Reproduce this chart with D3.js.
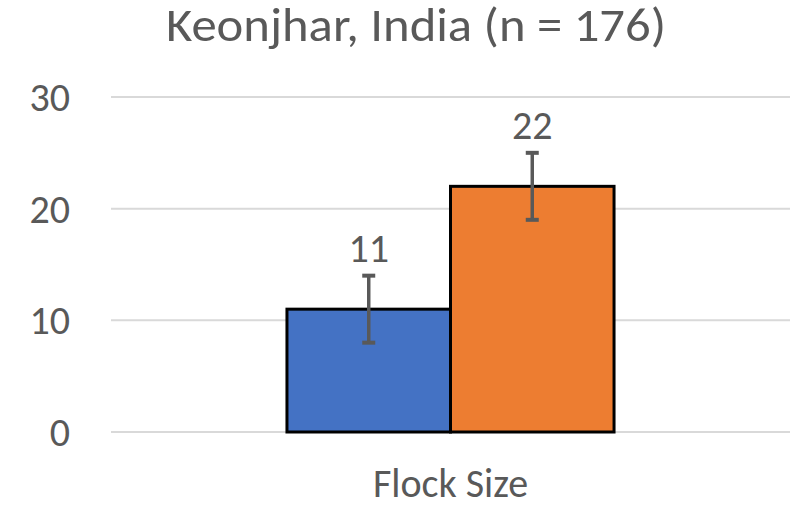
<!DOCTYPE html>
<html>
<head>
<meta charset="utf-8">
<script src="https://cdn.jsdelivr.net/npm/d3@7"></script>
<style>
  body { margin: 0; background: #fff; }
  text { font-family: Carlito, Calibri, "Open Sans", sans-serif; fill: #595959; }
</style>
</head>
<body>
<div id="chart"></div>
<script>
"use strict";

const categories = ["Flock Size"];
const seriesNames = ["Series A", "Series B"];
const seriesValues = [11, 22];
const errorLow = [8, 19];
const errorHigh = [14, 25];
const seriesColors = ["#4472c4", "#ed7d31"];
const yTicks = [0, 10, 20, 30];
const titleText = "Keonjhar, India (n = 176)";

const width = 808, height = 508;
const margin = { top: 97, right: 18, bottom: 76, left: 111 };
const plotW = width - margin.left - margin.right;
const plotH = height - margin.top - margin.bottom;
const fontStack = 'Carlito, Calibri, "Open Sans", sans-serif';

const svg = d3.select("#chart").append("svg")
  .attr("width", width)
  .attr("height", height);

// title, stretched slightly wider like the source picture
svg.append("text")
  .attr("x", 416)
  .attr("y", 41)
  .attr("text-anchor", "middle")
  .attr("textLength", 500)
  .attr("lengthAdjust", "spacingAndGlyphs")
  .style("font-size", "48px")
  .text(titleText);

const g = svg.append("g")
  .attr("transform", `translate(${margin.left},${margin.top})`);

const yScale = d3.scaleLinear().domain([0, 30]).range([plotH, 0]);
const xScale = d3.scaleBand().domain(categories).range([0, plotW])
  .paddingInner(0).paddingOuter(0.538);
const xInner = d3.scaleBand().domain(seriesNames).range([0, xScale.bandwidth()]);

// gridlines
g.append("g")
  .selectAll("line")
  .data(yTicks)
  .join("line")
  .attr("x1", 0)
  .attr("x2", plotW)
  .attr("y1", d => yScale(d))
  .attr("y2", d => yScale(d))
  .attr("stroke", "#d9d9d9")
  .attr("stroke-width", 2);

// y axis labels
const yAxis = g.append("g")
  .call(d3.axisLeft(yScale).tickValues(yTicks).tickSize(0).tickPadding(41));
yAxis.select(".domain").remove();
yAxis.selectAll("text")
  .attr("fill", "#595959")
  .attr("dy", "0.34em")
  .style("font-size", "40px")
  .style("font-family", fontStack);

// x axis label
const xAxis = g.append("g")
  .attr("transform", `translate(0,${plotH})`)
  .call(d3.axisBottom(xScale).tickSize(0).tickPadding(37));
xAxis.select(".domain").remove();
xAxis.selectAll("text")
  .attr("fill", "#595959")
  .style("font-size", "40px")
  .style("font-family", fontStack);

const barData = seriesNames.map((s, i) => ({
  name: s, value: seriesValues[i], lo: errorLow[i], hi: errorHigh[i], color: seriesColors[i]
}));

const groupX = xScale(categories[0]);

// bars
g.append("g")
  .selectAll("rect")
  .data(barData)
  .join("rect")
  .attr("x", d => groupX + xInner(d.name))
  .attr("y", d => yScale(d.value))
  .attr("width", xInner.bandwidth())
  .attr("height", d => yScale(0) - yScale(d.value))
  .attr("fill", d => d.color)
  .attr("stroke", "#000")
  .attr("stroke-width", 3);

// error bars
const eb = g.append("g")
  .selectAll("g")
  .data(barData)
  .join("g")
  .attr("transform", d => `translate(${groupX + xInner(d.name) + xInner.bandwidth() / 2},0)`);
eb.append("line")
  .attr("x1", 0).attr("x2", 0)
  .attr("y1", d => yScale(d.lo))
  .attr("y2", d => yScale(d.hi))
  .attr("stroke", "#595959")
  .attr("stroke-width", 3.5);
eb.selectAll("line.cap")
  .data(d => [d.lo, d.hi])
  .join("line")
  .attr("class", "cap")
  .attr("x1", -6.5).attr("x2", 6.5)
  .attr("y1", d => yScale(d))
  .attr("y2", d => yScale(d))
  .attr("stroke", "#595959")
  .attr("stroke-width", 4);

// value labels
g.append("g")
  .selectAll("text")
  .data(barData)
  .join("text")
  .attr("x", d => groupX + xInner(d.name) + xInner.bandwidth() / 2)
  .attr("y", d => yScale(d.hi) - 14)
  .attr("text-anchor", "middle")
  .style("font-size", "40px")
  .text(d => d.value);
</script>
</body>
</html>
